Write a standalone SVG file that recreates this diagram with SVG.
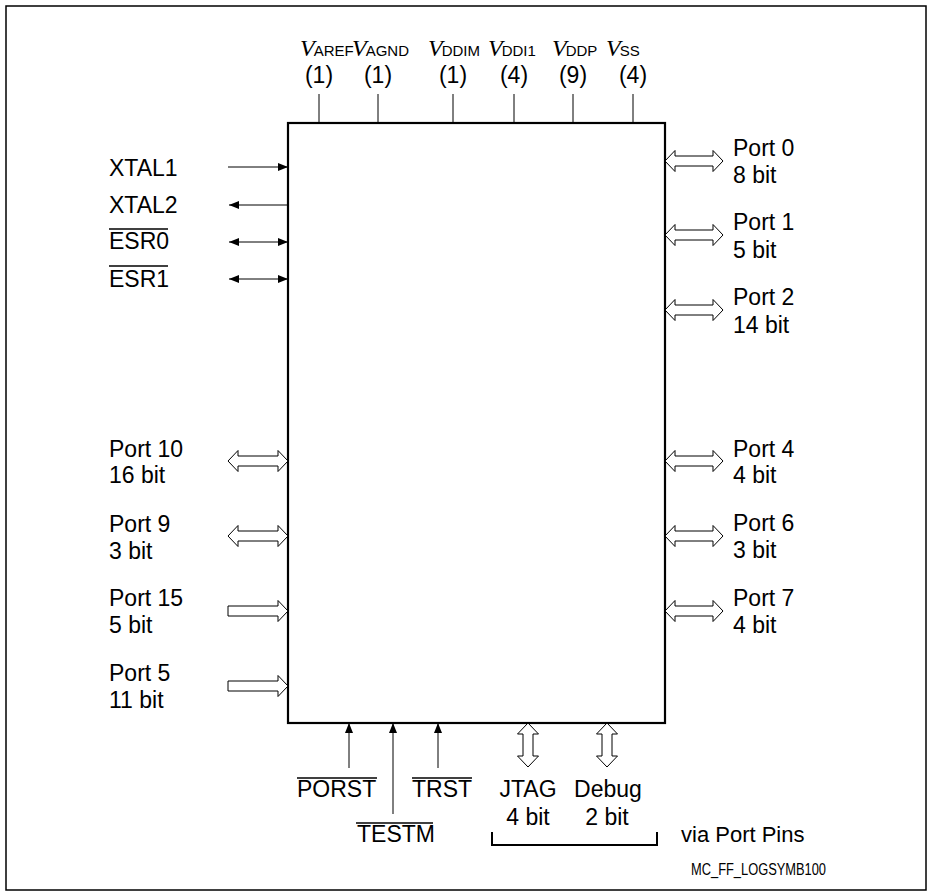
<svg xmlns="http://www.w3.org/2000/svg" width="928" height="892" viewBox="0 0 928 892">
<style>
.t{font-family:"Liberation Sans",Arial,sans-serif;font-size:23px;fill:#000}
.v{font-family:"Liberation Serif","Times New Roman",serif;font-style:italic;font-size:24px;fill:#000}
.s{font-family:"Liberation Sans",Arial,sans-serif;font-size:15px;font-style:normal}
.ln{stroke:#000;stroke-width:1;fill:none}
.ol{stroke:#000;stroke-width:1.3;fill:none}
.ho{stroke:#000;stroke-width:1;fill:#fff}
</style>
<defs>
<marker id="ah" viewBox="0 0 10 8" refX="10" refY="4" markerWidth="10" markerHeight="8" orient="auto-start-reverse" markerUnits="userSpaceOnUse"><path d="M0,0 L10,4 L0,8 Z" fill="#000"/></marker>
<path id="dblR" d="M0,0 L10,-10.5 L10,-5 L48,-5 L48,-10.5 L58,0 L48,10.5 L48,5 L10,5 L10,10.5 Z"/>
<path id="dblL" d="M0,0 L10,-10.5 L10,-5 L50,-5 L50,-10.5 L60,0 L50,10.5 L50,5 L10,5 L10,10.5 Z"/>
<path id="sgl" d="M0,-5 L50,-5 L50,-10.5 L60,0 L50,10.5 L50,5 L0,5 Z"/>
<path id="dblV" d="M0,0 L-10.5,11 L-5,11 L-5,33 L-10.5,33 L0,44 L10.5,33 L5,33 L5,11 L10.5,11 Z"/>
</defs>
<rect x="6" y="6" width="920" height="884" fill="#fff" stroke="#000" stroke-width="1.5"/>

<g id="chip">
<rect x="288" y="123" width="377" height="600" fill="#fff" stroke="#000" stroke-width="2.2"/>
</g>

<g id="connectors">
<!-- top supply pins -->
<line class="ln" x1="319" y1="94" x2="319" y2="123"/>
<line class="ln" x1="378" y1="94" x2="378" y2="123"/>
<line class="ln" x1="453" y1="94" x2="453" y2="123"/>
<line class="ln" x1="514" y1="94" x2="514" y2="123"/>
<line class="ln" x1="573" y1="94" x2="573" y2="123"/>
<line class="ln" x1="633" y1="94" x2="633" y2="123"/>
<!-- left thin arrows -->
<line class="ln" x1="228" y1="167" x2="288" y2="167" marker-end="url(#ah)"/>
<line class="ln" x1="288" y1="205" x2="229" y2="205" marker-end="url(#ah)"/>
<line class="ln" x1="229" y1="242" x2="288" y2="242" marker-start="url(#ah)" marker-end="url(#ah)"/>
<line class="ln" x1="229" y1="279" x2="288" y2="279" marker-start="url(#ah)" marker-end="url(#ah)"/>
<!-- bottom thin arrows -->
<line class="ln" x1="349" y1="768" x2="349" y2="723" marker-end="url(#ah)"/>
<line class="ln" x1="393" y1="814" x2="393" y2="723" marker-end="url(#ah)"/>
<line class="ln" x1="438" y1="768" x2="438" y2="723" marker-end="url(#ah)"/>
<!-- right hollow arrows -->
<use href="#dblR" class="ho" x="665" y="161"/>
<use href="#dblR" class="ho" x="665" y="235"/>
<use href="#dblR" class="ho" x="665" y="310"/>
<use href="#dblR" class="ho" x="665" y="461"/>
<use href="#dblR" class="ho" x="665" y="536"/>
<use href="#dblR" class="ho" x="665" y="611"/>
<!-- left hollow arrows -->
<use href="#dblL" class="ho" x="228" y="461"/>
<use href="#dblL" class="ho" x="228" y="536"/>
<use href="#sgl" class="ho" x="228" y="611"/>
<use href="#sgl" class="ho" x="228" y="686"/>
<!-- bottom hollow arrows -->
<use href="#dblV" class="ho" x="528" y="723"/>
<use href="#dblV" class="ho" x="607" y="723"/>
<!-- bracket -->
<path d="M492,832 L492,845 L657,845 L657,832" stroke="#000" stroke-width="2" fill="none"/>
</g>

<g id="supply-labels">
<text class="v" x="300" y="56">V<tspan class="s" dx="-1">AREF</tspan></text>
<text class="v" x="352" y="56">V<tspan class="s" dx="-1">AGND</tspan></text>
<text class="v" x="428" y="56">V<tspan class="s" dx="-1">DDIM</tspan></text>
<text class="v" x="488" y="56">V<tspan class="s" dx="-1">DDI1</tspan></text>
<text class="v" x="552" y="56">V<tspan class="s" dx="-1">DDP</tspan></text>
<text class="v" x="606" y="56">V<tspan class="s" dx="-1">SS</tspan></text>
<g class="t" text-anchor="middle">
<text x="319" y="83">(1)</text>
<text x="378" y="83">(1)</text>
<text x="453" y="83">(1)</text>
<text x="514" y="83">(4)</text>
<text x="573" y="83">(9)</text>
<text x="633" y="83">(4)</text>
</g>
</g>

<g id="left-labels">
<text class="t" x="109" y="176">XTAL1</text>
<text class="t" x="109" y="213">XTAL2</text>
<text class="t" x="109" y="249">ESR0</text>
<line class="ol" x1="109" y1="229" x2="168" y2="229"/>
<text class="t" x="109" y="287">ESR1</text>
<line class="ol" x1="109" y1="266" x2="168" y2="266"/>
<text class="t" x="109" y="457">Port 10</text>
<text class="t" x="109" y="483">16 bit</text>
<text class="t" x="109" y="532">Port 9</text>
<text class="t" x="109" y="559">3 bit</text>
<text class="t" x="109" y="606">Port 15</text>
<text class="t" x="109" y="633">5 bit</text>
<text class="t" x="109" y="681">Port 5</text>
<text class="t" x="109" y="708">11 bit</text>
</g>

<g id="right-labels">
<text class="t" x="733" y="156">Port 0</text>
<text class="t" x="733" y="183">8 bit</text>
<text class="t" x="733" y="230">Port 1</text>
<text class="t" x="733" y="258">5 bit</text>
<text class="t" x="733" y="305">Port 2</text>
<text class="t" x="733" y="333">14 bit</text>
<text class="t" x="733" y="457">Port 4</text>
<text class="t" x="733" y="483">4 bit</text>
<text class="t" x="733" y="531">Port 6</text>
<text class="t" x="733" y="558">3 bit</text>
<text class="t" x="733" y="606">Port 7</text>
<text class="t" x="733" y="633">4 bit</text>
</g>

<g id="bottom-labels">
<text class="t" x="297" y="797">PORST</text>
<line class="ol" x1="297" y1="778" x2="377" y2="778"/>
<text class="t" x="412" y="797">TRST</text>
<line class="ol" x1="412" y1="778" x2="472" y2="778"/>
<text class="t" x="357" y="842">TESTM</text>
<line class="ol" x1="356" y1="823" x2="433" y2="823"/>
<text class="t" x="528" y="797" text-anchor="middle">JTAG</text>
<text class="t" x="528" y="825" text-anchor="middle">4 bit</text>
<text class="t" x="608" y="797" text-anchor="middle">Debug</text>
<text class="t" x="607" y="825" text-anchor="middle">2 bit</text>
<text class="t" x="681" y="842" style="font-size:22px">via Port Pins</text>
<text class="t" x="691" y="875" style="font-size:16px" textLength="135" lengthAdjust="spacingAndGlyphs">MC_FF_LOGSYMB100</text>
</g>
</svg>
